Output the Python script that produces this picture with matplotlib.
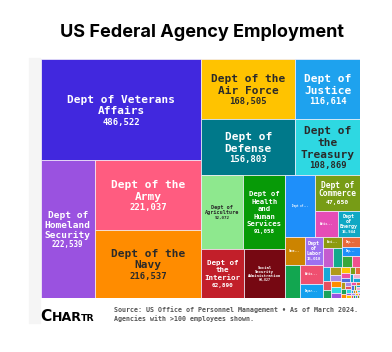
import matplotlib
matplotlib.use("Agg")
import matplotlib.pyplot as plt
from matplotlib.patches import Rectangle
import matplotlib.colors as mcolors
import numpy as np

# ---------------- data (sorted descending, as in the treemap) ----------------
agencies = [
    "Dept of Veterans Affairs", "Dept of Homeland Security", "Dept of the Army",
    "Dept of the Navy", "Dept of the Air Force", "Dept of Defense",
    "Dept of Justice", "Dept of the Treasury", "Dept of Agriculture",
    "Dept of Health and Human Services", "Dept of the Interior",
    "Social Security Administration", "Dept of Transportation",
    "Dept of Commerce", "National Aeronautics and Space Administration",
    "Dept of Energy", "General Services Administration", "Dept of Labor",
    "Environmental Protection Agency", "National Science Foundation",
    "Department of Housing and Urban Development",
    "Environmental Agencies", "Small Business Administration",
    "Securities and Exchange Commission", "Dept of State",
    "Department of Education", "Smithsonian Institution",
    "Federal Deposit Insurance Corporation",
    "Office of Personnel Management", "Nuclear Regulatory Commission",
    "National Archives and Records Administration",
    "Equal Employment Opportunity Commission", "Court Services and Offender Supervision",
    "Consumer Financial Protection Bureau", "Federal Communications Commission",
    "U.S. Agency for Global Media", "Federal Energy Regulatory Commission",
    "National Labor Relations Board", "Federal Trade Commission",
    "Peace Corps", "Railroad Retirement Board", "Pension Benefit Guaranty Corporation",
    "Commodity Futures Trading Commission", "Corporation for National and Community Service",
    "Consumer Product Safety Commission", "National Credit Union Administration",
    "National Transportation Safety Board", "Federal Housing Finance Agency",
    "Federal Election Commission", "Merit Systems Protection Board",
    "Defense Nuclear Facilities Safety Board", "Federal Maritime Commission",
    "International Trade Commission", "National Endowment for the Humanities",
    "Federal Labor Relations Authority", "Office of Special Counsel",
    "Millennium Challenge Corporation", "National Endowment for the Arts",
    "Export-Import Bank", "Occupational Safety and Health Review Commission",
    "Selective Service System", "National Mediation Board",
    "Institute of Museum and Library Services", "Farm Credit Administration",
    "U.S. Trade and Development Agency", "Chemical Safety Board",
    "Office of Government Ethics", "Surface Transportation Board",
    "Federal Mine Safety and Health Review Commission", "U.S. Commission on Civil Rights",
    "Armed Forces Retirement Home",
]
employees = [
    486522, 222539, 221037, 216537, 168505, 156803, 116614, 108869, 92072,
    91058, 62890, 60827, 55045, 47650, 18004, 16944, 16500, 15010, 14520,
    13400, 10010, 6600, 6000, 5200, 5100, 4900, 3200, 2800,
    2700, 2500, 2300, 2100, 1900, 1800, 1700, 1600, 1400, 1300, 1100, 1000,
    950, 900, 850, 800, 750, 700, 650, 600, 550, 500, 450, 420, 400, 380,
    350, 320, 300, 280, 260, 240, 220, 200, 190, 180, 170, 160, 150, 140,
    130, 120, 110,
]

title = "US Federal Agency Employment"
source_lines = ["Source: US Office of Personnel Management \u2022 As of March 2024.",
                "Agencies with >100 employees shown."]
logo_parts = ["C", "HAR", "TR"]

# ---------------- styles ----------------
named_colors = [
    "#4128de", "#9a52e0", "#ff5c80", "#ff8c00", "#ffc300", "#00798a",
    "#1ea2ee", "#2ed8e2", "#8ee88e", "#079a07", "#c21f2a", "#760812",
    "#1e8ffa", "#779c16", "#e64cb6", "#10a8c4", "#cc8400", "#9c70f0",
    "#12a650", "#ef4f70", "#14a0ee", "#8c9a0e", "#c45ccf", "#11aa8c",
    "#e8693a", "#1e8ffa", "#3aa83a", "#f0508e",
]
tiny_palette = ["#16a7d8", "#b09a1a", "#a888e8", "#e85060", "#1aa35a",
                "#ff8c00", "#2ed8e2", "#9a52e0", "#ffc300", "#ef4fa0",
                "#4a70e0", "#77a015", "#e8693a", "#10a8c4", "#f0b0d0"]
colors = [named_colors[i] if i < len(named_colors)
          else tiny_palette[(i - len(named_colors)) % len(tiny_palette)]
          for i in range(len(employees))]

FW, FH, DPI = 392, 352, 100
fig = plt.figure(figsize=(FW / DPI, FH / DPI), dpi=DPI)
fig.patch.set_facecolor("white")

# faint panel strip on the left
fig.patches.append(Rectangle((29 / FW, 1 - 323 / FH), 11 / FW, (323 - 58) / FH,
                             transform=fig.transFigure, color="#f5f5f5", zorder=0))

# treemap area
L, T, R, B = 40.7, 59.0, 360.0, 298.0
ax = fig.add_axes([L / FW, 1 - B / FH, (R - L) / FW, (B - T) / FH])
Wpx, Hpx = R - L, B - T
ax.set_xlim(0, Wpx)
ax.set_ylim(Hpx, 0)
ax.axis("off")


def binary_layout(values, x0, y0, x1, y1):
    n = len(values)
    sums = [0.0]
    for v in values:
        sums.append(sums[-1] + v)
    rects = [None] * n

    def part(i, j, value, x0, y0, x1, y1):
        if i >= j - 1:
            rects[i] = (x0, y0, x1, y1)
            return
        offset = sums[i]
        target = value / 2 + offset
        k, hi = i + 1, j - 1
        while k < hi:
            mid = (k + hi) // 2
            if sums[mid] < target:
                k = mid + 1
            else:
                hi = mid
        if (target - sums[k - 1]) < (sums[k] - target) and i + 1 < k:
            k -= 1
        vl = sums[k] - offset
        vr = value - vl
        if (x1 - x0) > (y1 - y0):
            xk = (x0 * vr + x1 * vl) / value
            part(i, k, vl, x0, y0, xk, y1)
            part(k, j, vr, xk, y0, x1, y1)
        else:
            yk = (y0 * vr + y1 * vl) / value
            part(i, k, vl, x0, y0, x1, yk)
            part(k, j, vr, x0, yk, x1, y1)

    part(0, n, sums[-1], x0, y0, x1, y1)
    return rects


rects = binary_layout(employees, 0, 0, Wpx, Hpx)

PX = DPI / 72.0
CW = 0.602
MONO = "DejaVu Sans Mono"


def wrap(words, maxc):
    lines, cur = [], ""
    for wd in words:
        cand = wd if not cur else cur + " " + wd
        if len(cand) <= maxc:
            cur = cand
        else:
            lines.append(cur)
            cur = wd
    lines.append(cur)
    return lines


def fit_label(name, w, h):
    words = name.split()
    for size in np.arange(8.0, 2.45, -0.1):
        cw = size * PX * CW
        maxc = int((0.85 * w) // cw)
        if maxc < max(len(x) for x in words):
            continue
        lines = wrap(words, maxc)
        em = size * PX
        total = 0.73 * em + (len(lines) - 1) * 1.045 * em + 0.96 * em
        if total <= 0.85 * h:
            return size, lines
    return None, None


def text_color(c):
    r, g, b = mcolors.to_rgb(c)
    lum = 0.299 * r + 0.587 * g + 0.114 * b
    return "#2a2a2a" if lum > 0.6 else "white"


for name, val, (x0, y0, x1, y1), col in zip(agencies, employees, rects, colors):
    w, h = x1 - x0, y1 - y0
    ax.add_patch(Rectangle((x0, y0), w, h, facecolor=col, edgecolor="#f3eefb",
                           linewidth=0.5))
    cx, cy = (x0 + x1) / 2, (y0 + y1) / 2
    tc = text_color(col)
    size, lines = fit_label(name, w, h)
    if size is not None:
        em = size * PX
        base = [i * 1.045 * em for i in range(len(lines))]
        bv = base[-1] + 0.96 * em
        top = -0.73 * em
        off = cy - (top + bv) / 2
        for ln, b in zip(lines, base):
            ax.text(cx, b + off, ln, ha="center", va="baseline", fontsize=size,
                    family=MONO, weight="bold", color=tc)
        ax.text(cx, bv + off, f"{val:,}", ha="center", va="baseline",
                fontsize=size * 0.8, family=MONO, weight="bold", color=tc)
    elif w >= 15 and h >= 6:
        k = max(1, int(0.58 * w / 1.6) - 3)
        lab = name[:k].rstrip() + "..."
        ax.text(cx, cy, lab, ha="center", va="center", fontsize=1.9,
                family=MONO, weight="bold", color=tc)

# ---------------- title ----------------
renderer = fig.canvas.get_renderer()
tt = fig.text(202 / FW, 1 - 37 / FH, title, ha="center", va="baseline",
              fontsize=14, weight="bold", family=["Inter", "DejaVu Sans"],
              color="black")
wt = tt.get_window_extent(renderer).width
tt.set_fontsize(14 * 284.0 / wt)

# ---------------- footer ----------------
fig.text(114 / FW, 1 - 312 / FH, source_lines[0], ha="left", va="baseline",
         fontsize=4.75, family=MONO, weight="bold", color="#555555")
fig.text(114 / FW, 1 - 321 / FH, source_lines[1], ha="left", va="baseline",
         fontsize=4.75, family=MONO, weight="bold", color="#555555")

# logo: fit total width to ~55 px
logo_family = ["Liberation Sans Narrow", "DejaVu Sans"]
base_sizes = [14.0, 11.5, 8.5]
widths = []
for s, fs in zip(logo_parts, base_sizes):
    tmp = fig.text(0, 0, s, fontsize=fs, weight="bold", family=logo_family)
    widths.append(tmp.get_window_extent(renderer).width)
    tmp.remove()
scale = min(1.0, 55.0 / sum(widths))
x = 40.7
for s, fs in zip(logo_parts, base_sizes):
    t = fig.text(x / FW, 1 - 321 / FH, s, ha="left", va="baseline",
                 fontsize=fs * scale, weight="bold", family=logo_family,
                 color="black")
    x += t.get_window_extent(renderer).width - 0.3

fig.savefig("out.png", dpi=DPI, facecolor="white")
